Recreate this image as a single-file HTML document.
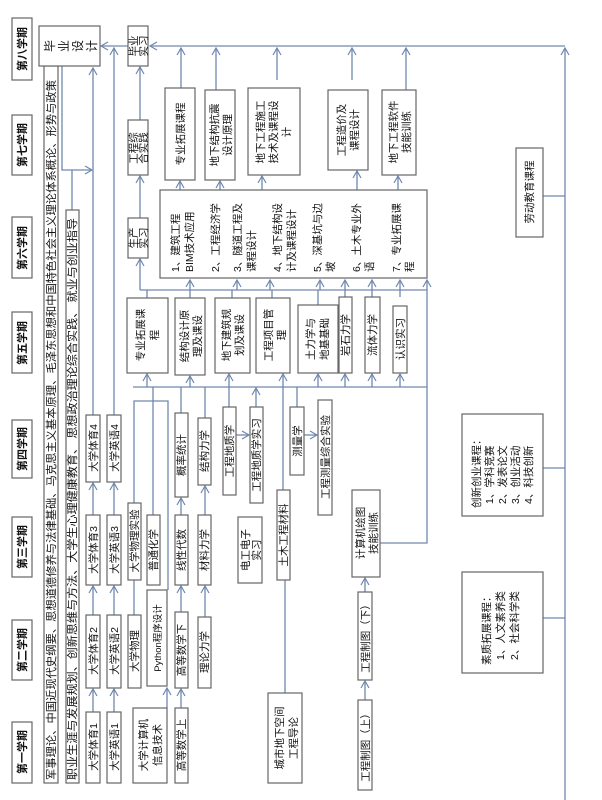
<!DOCTYPE html>
<html><head><meta charset="utf-8"><style>
html,body{margin:0;padding:0;background:#fff}
svg{display:block}
text{font-family:"Liberation Sans","Noto Sans CJK SC",sans-serif;font-size:10.5px;fill:#111}
.b{fill:#fff;stroke:#666;stroke-width:1.2}
.c{fill:none;stroke:#7088ad;stroke-width:1.3}
.h{font-weight:bold;font-size:11px}
</style></head><body>
<svg width="602" height="800" viewBox="0 0 602 800" xmlns="http://www.w3.org/2000/svg">
<defs><marker id="a" markerWidth="10" markerHeight="10" refX="8" refY="5" orient="auto" markerUnits="userSpaceOnUse"><path d="M1,1 L8,5 L1,9" fill="none" stroke="#7088ad" stroke-width="1.2"/></marker></defs>

<g>
<rect class="b" x="12" y="18" width="20" height="62"/><text class="h" transform="translate(26,49) rotate(-90)" text-anchor="middle">第八学期</text>
<rect class="b" x="12" y="115" width="20" height="60"/><text class="h" transform="translate(26,145) rotate(-90)" text-anchor="middle">第七学期</text>
<rect class="b" x="12" y="217" width="20" height="61"/><text class="h" transform="translate(26,248) rotate(-90)" text-anchor="middle">第六学期</text>
<rect class="b" x="12" y="312" width="20" height="61"/><text class="h" transform="translate(26,343) rotate(-90)" text-anchor="middle">第五学期</text>
<rect class="b" x="12" y="420" width="20" height="58"/><text class="h" transform="translate(26,449) rotate(-90)" text-anchor="middle">第四学期</text>
<rect class="b" x="12" y="517" width="20" height="60"/><text class="h" transform="translate(26,547) rotate(-90)" text-anchor="middle">第三学期</text>
<rect class="b" x="12" y="620" width="20" height="60"/><text class="h" transform="translate(26,650) rotate(-90)" text-anchor="middle">第二学期</text>
<rect class="b" x="12" y="722" width="20" height="61"/><text class="h" transform="translate(26,752) rotate(-90)" text-anchor="middle">第一学期</text>
</g>

<g class="c">
<path d="M565,800 V48" marker-end="url(#a)"/>
<path d="M565,46 H150" marker-end="url(#a)"/>
<path d="M128,46 H101" marker-end="url(#a)"/>
<path d="M62,66 V170 H92" marker-end="url(#a)"/>
<path d="M72,210 V170"/>
<path d="M93,415 V68" marker-end="url(#a)"/>
<path d="M114,415 V48" marker-end="url(#a)"/>
<path d="M93,712 V689" marker-end="url(#a)"/><path d="M93,615 V586" marker-end="url(#a)"/><path d="M93,515 V483" marker-end="url(#a)"/>
<path d="M114,712 V689" marker-end="url(#a)"/><path d="M114,615 V586" marker-end="url(#a)"/><path d="M114,515 V483" marker-end="url(#a)"/>
<path d="M167,708 V688" marker-end="url(#a)"/>
<path d="M134,615 V580"/>
<path d="M134,503 V401 H168 V590"/>
<path d="M153,515 V387"/>
<path d="M181,708 V689" marker-end="url(#a)"/><path d="M181,612 V586" marker-end="url(#a)"/><path d="M181,515 V498" marker-end="url(#a)"/><path d="M181,413 V387"/>
<path d="M205,617 V586" marker-end="url(#a)"/><path d="M205,515 V486" marker-end="url(#a)"/><path d="M205,418 V387"/>
<path d="M229,407 V374" marker-end="url(#a)"/>
<path d="M236,435 H249" marker-end="url(#a)"/>
<path d="M256,407 V388" marker-end="url(#a)"/>
<path d="M285,693 V580"/>
<path d="M283,490 V374" marker-end="url(#a)"/>
<path d="M297,407 V387"/>
<path d="M304,435 H317" marker-end="url(#a)"/>
<path d="M365,700 V681" marker-end="url(#a)"/><path d="M365,592 V578" marker-end="url(#a)"/>
<path d="M380,543 H427 V280" marker-end="url(#a)"/>
<path d="M133,387 H427"/>
<path d="M147,387 V374" marker-end="url(#a)"/>
<path d="M190,387 V376" marker-end="url(#a)"/>
<path d="M318,387 V374" marker-end="url(#a)"/>
<path d="M345,387 V374" marker-end="url(#a)"/>
<path d="M372,387 V374" marker-end="url(#a)"/>
<path d="M400,387 V374" marker-end="url(#a)"/>
<path d="M140,290 H427"/>
<path d="M147,298 V290"/><path d="M190,298 V290"/><path d="M232,298 V290"/><path d="M272,298 V290"/><path d="M318,305 V290"/><path d="M345,297 V290"/><path d="M372,297 V290"/><path d="M400,297 V290"/>
<path d="M140,290 V259" marker-end="url(#a)"/>
<path d="M190,290 V280" marker-end="url(#a)"/><path d="M237,290 V280" marker-end="url(#a)"/><path d="M270,290 V280" marker-end="url(#a)"/><path d="M320,290 V280" marker-end="url(#a)"/><path d="M345,290 V280" marker-end="url(#a)"/><path d="M372,290 V280" marker-end="url(#a)"/><path d="M400,290 V280" marker-end="url(#a)"/>
<path d="M140,218 V176" marker-end="url(#a)"/>
<path d="M140,120 V67" marker-end="url(#a)"/>
<path d="M180,190 V181" marker-end="url(#a)"/><path d="M220,190 V181" marker-end="url(#a)"/><path d="M262,190 V176" marker-end="url(#a)"/><path d="M357,190 V171" marker-end="url(#a)"/><path d="M398,190 V176" marker-end="url(#a)"/>
<path d="M181,88 V48" marker-end="url(#a)"/><path d="M216,90 V48" marker-end="url(#a)"/><path d="M277,80 V48" marker-end="url(#a)"/><path d="M352,80 V48" marker-end="url(#a)"/><path d="M406,90 V48" marker-end="url(#a)"/>
<path d="M543,196 H565"/><path d="M543,468 H565"/><path d="M543,618 H565"/>
</g>

<rect class="b" x="44" y="66" width="14" height="717"/>
<text transform="translate(55,780) rotate(-90)" textLength="700" lengthAdjust="spacingAndGlyphs" style="font-size:11px">军事理论、中国近现代史纲要、思想道德修养与法律基础、马克思主义基本原理、毛泽东思想和中国特色社会主义理论体系概论、形势与政策</text>
<rect class="b" x="66" y="210" width="13" height="573"/>
<text transform="translate(76,780) rotate(-90)" textLength="562" lengthAdjust="spacingAndGlyphs" style="font-size:11px">职业生涯与发展规划、创新思维与方法、大学生心理健康教育、 思想政治理论综合实践、 就业与创业指导</text>

<rect class="b" x="39" y="26" width="61" height="40"/>
<text transform="translate(50,46) rotate(-90)" text-anchor="middle" dominant-baseline="central" style="font-size:12px">毕</text>
<text transform="translate(64,46) rotate(-90)" text-anchor="middle" dominant-baseline="central" style="font-size:12px">业</text>
<text transform="translate(78,46) rotate(-90)" text-anchor="middle" dominant-baseline="central" style="font-size:12px">设</text>
<text transform="translate(92,46) rotate(-90)" text-anchor="middle" dominant-baseline="central" style="font-size:12px">计</text>
<rect class="b" x="128" y="26" width="20" height="40"/>
<text transform="translate(137,46) rotate(-90)" text-anchor="middle">毕业</text><text transform="translate(147,46) rotate(-90)" text-anchor="middle">实习</text>

<g>
<rect class="b" x="86" y="712" width="14" height="71"/><text transform="translate(97,747) rotate(-90)" text-anchor="middle">大学体育1</text>
<rect class="b" x="86" y="615" width="14" height="73"/><text transform="translate(97,651) rotate(-90)" text-anchor="middle">大学体育2</text>
<rect class="b" x="86" y="515" width="14" height="70"/><text transform="translate(97,550) rotate(-90)" text-anchor="middle">大学体育3</text>
<rect class="b" x="86" y="415" width="14" height="67"/><text transform="translate(97,448) rotate(-90)" text-anchor="middle">大学体育4</text>
<rect class="b" x="107" y="712" width="14" height="71"/><text transform="translate(118,747) rotate(-90)" text-anchor="middle">大学英语1</text>
<rect class="b" x="107" y="615" width="14" height="73"/><text transform="translate(118,651) rotate(-90)" text-anchor="middle">大学英语2</text>
<rect class="b" x="107" y="515" width="14" height="70"/><text transform="translate(118,550) rotate(-90)" text-anchor="middle">大学英语3</text>
<rect class="b" x="107" y="415" width="14" height="67"/><text transform="translate(118,448) rotate(-90)" text-anchor="middle">大学英语4</text>
<rect class="b" x="133" y="708" width="34" height="75"/><text transform="translate(147,745) rotate(-90)" text-anchor="middle">大学计算机</text><text transform="translate(161,745) rotate(-90)" text-anchor="middle">信息技术</text>
<rect class="b" x="128" y="615" width="13" height="73"/><text transform="translate(138,651) rotate(-90)" text-anchor="middle">大学物理</text>
<rect class="b" x="128" y="503" width="13" height="77"/><text transform="translate(138,541) rotate(-90)" text-anchor="middle">大学物理实验</text>
<rect class="b" x="147" y="590" width="20" height="96"/><text transform="translate(161,638) rotate(-90)" text-anchor="middle" style="font-size:9.5px">Python程序设计</text>
<rect class="b" x="147" y="515" width="13" height="70"/><text transform="translate(157,550) rotate(-90)" text-anchor="middle">普通化学</text>
<rect class="b" x="175" y="708" width="13" height="75"/><text transform="translate(185,745) rotate(-90)" text-anchor="middle">高等数学上</text>
<rect class="b" x="175" y="612" width="13" height="76"/><text transform="translate(185,650) rotate(-90)" text-anchor="middle">高等数学下</text>
<rect class="b" x="175" y="515" width="13" height="70"/><text transform="translate(185,550) rotate(-90)" text-anchor="middle">线性代数</text>
<rect class="b" x="175" y="413" width="13" height="84"/><text transform="translate(185,455) rotate(-90)" text-anchor="middle">概率统计</text>
<rect class="b" x="198" y="617" width="13" height="71"/><text transform="translate(208,652) rotate(-90)" text-anchor="middle">理论力学</text>
<rect class="b" x="198" y="515" width="13" height="70"/><text transform="translate(208,550) rotate(-90)" text-anchor="middle">材料力学</text>
<rect class="b" x="198" y="418" width="13" height="67"/><text transform="translate(208,451) rotate(-90)" text-anchor="middle">结构力学</text>
<rect class="b" x="238" y="517" width="24" height="66"/><text transform="translate(249,550) rotate(-90)" text-anchor="middle">电工电子</text><text transform="translate(260,550) rotate(-90)" text-anchor="middle">实习</text>
<rect class="b" x="223" y="407" width="13" height="88"/><text transform="translate(233,451) rotate(-90)" text-anchor="middle">工程地质学</text>
<rect class="b" x="250" y="407" width="13" height="96"/><text transform="translate(260,455) rotate(-90)" text-anchor="middle">工程地质学实习</text>
<rect class="b" x="277" y="490" width="13" height="90"/><text transform="translate(287,535) rotate(-90)" text-anchor="middle">土木工程材料</text>
<rect class="b" x="268" y="693" width="34" height="90"/><text transform="translate(283,738) rotate(-90)" text-anchor="middle">城市地下空间</text><text transform="translate(297,738) rotate(-90)" text-anchor="middle">工程导论</text>
<rect class="b" x="290" y="407" width="14" height="68"/><text transform="translate(301,441) rotate(-90)" text-anchor="middle">测量学</text>
<rect class="b" x="318" y="400" width="14" height="115"/><text transform="translate(329,457) rotate(-90)" text-anchor="middle">工程测量综合实验</text>
<rect class="b" x="352" y="490" width="28" height="87"/><text transform="translate(364,533) rotate(-90)" text-anchor="middle">计算机绘图</text><text transform="translate(377,533) rotate(-90)" text-anchor="middle">技能训练</text>
<rect class="b" x="358" y="592" width="14" height="88"/><text transform="translate(369,636) rotate(-90)" text-anchor="middle">工程制图（下）</text>
<rect class="b" x="358" y="700" width="14" height="90"/><text transform="translate(369,745) rotate(-90)" text-anchor="middle">工程制图（上）</text>
</g>

<g>
<rect class="b" x="127" y="298" width="41" height="75"/><text transform="translate(144,335) rotate(-90)" text-anchor="middle">专业拓展课</text><text transform="translate(158,335) rotate(-90)" text-anchor="middle">程</text>
<rect class="b" x="175" y="298" width="30" height="77"/><text transform="translate(188,336) rotate(-90)" text-anchor="middle">结构设计原</text><text transform="translate(201,336) rotate(-90)" text-anchor="middle">理及课设</text>
<rect class="b" x="215" y="298" width="35" height="75"/><text transform="translate(230,335) rotate(-90)" text-anchor="middle">地下建筑规</text><text transform="translate(243,335) rotate(-90)" text-anchor="middle">划及课设</text>
<rect class="b" x="256" y="298" width="34" height="75"/><text transform="translate(272,335) rotate(-90)" text-anchor="middle">工程项目管</text><text transform="translate(285,335) rotate(-90)" text-anchor="middle">理</text>
<rect class="b" x="298" y="305" width="40" height="68"/><text transform="translate(314,339) rotate(-90)" text-anchor="middle">土力学与</text><text transform="translate(328,339) rotate(-90)" text-anchor="middle">地基基础</text>
<rect class="b" x="339" y="297" width="13" height="76"/><text transform="translate(349,335) rotate(-90)" text-anchor="middle">岩石力学</text>
<rect class="b" x="365" y="297" width="15" height="76"/><text transform="translate(376,335) rotate(-90)" text-anchor="middle">流体力学</text>
<rect class="b" x="393" y="306" width="14" height="67"/><text transform="translate(404,339) rotate(-90)" text-anchor="middle">认识实习</text>
</g>

<rect class="b" x="128" y="218" width="20" height="40"/><text transform="translate(137,238) rotate(-90)" text-anchor="middle">生产</text><text transform="translate(147,238) rotate(-90)" text-anchor="middle">实习</text>
<rect class="b" x="160" y="190" width="267" height="88"/>
<g>
<text transform="translate(179,272) rotate(-90)">1、建筑工程</text><text transform="translate(193,272) rotate(-90)">BIM技术应用</text>
<text transform="translate(219,272) rotate(-90)">2、工程经济学</text>
<text transform="translate(241,272) rotate(-90)">3、隧道工程及</text><text transform="translate(255,272) rotate(-90)">课程设计</text>
<text transform="translate(281,272) rotate(-90)">4、地下结构设</text><text transform="translate(295,272) rotate(-90)">计及课程设计</text>
<text transform="translate(321,272) rotate(-90)">5、深基坑与边</text><text transform="translate(334,272) rotate(-90)">坡</text>
<text transform="translate(360,272) rotate(-90)">6、土木专业外</text><text transform="translate(373,272) rotate(-90)">语</text>
<text transform="translate(400,272) rotate(-90)">7、专业拓展课</text><text transform="translate(413,272) rotate(-90)">程</text>
</g>

<g>
<rect class="b" x="128" y="120" width="20" height="55"/><text transform="translate(137,148) rotate(-90)" text-anchor="middle">工程综</text><text transform="translate(147,148) rotate(-90)" text-anchor="middle">合实践</text>
<rect class="b" x="165" y="88" width="30" height="92"/><text transform="translate(184,134) rotate(-90)" text-anchor="middle">专业拓展课程</text>
<rect class="b" x="205" y="90" width="30" height="90"/><text transform="translate(218,135) rotate(-90)" text-anchor="middle">地下结构抗震</text><text transform="translate(231,135) rotate(-90)" text-anchor="middle">设计原理</text>
<rect class="b" x="248" y="88" width="52" height="87"/><text transform="translate(264,132) rotate(-90)" text-anchor="middle">地下工程施工</text><text transform="translate(277,132) rotate(-90)" text-anchor="middle">技术及课程设</text><text transform="translate(290,132) rotate(-90)" text-anchor="middle">计</text>
<rect class="b" x="328" y="90" width="40" height="80"/><text transform="translate(345,130) rotate(-90)" text-anchor="middle">工程造价及</text><text transform="translate(358,130) rotate(-90)" text-anchor="middle">课程设计</text>
<rect class="b" x="382" y="90" width="34" height="85"/><text transform="translate(397,132) rotate(-90)" text-anchor="middle">地下工程软件</text><text transform="translate(410,132) rotate(-90)" text-anchor="middle">技能训练</text>
</g>

<rect class="b" x="516" y="148" width="27" height="89"/><text transform="translate(533,192) rotate(-90)" text-anchor="middle">劳动教育课程</text>
<rect class="b" x="462" y="414" width="81" height="102"/>
<text transform="translate(480,508) rotate(-90)">创新创业课程：</text>
<text transform="translate(493,504) rotate(-90)">1、学科竞赛</text>
<text transform="translate(506,504) rotate(-90)">2、发表论文</text>
<text transform="translate(519,504) rotate(-90)">3、创业活动</text>
<text transform="translate(532,504) rotate(-90)">4、科技创新</text>
<rect class="b" x="462" y="572" width="81" height="101"/>
<text transform="translate(490,665) rotate(-90)">素质拓展课程：</text>
<text transform="translate(504,660) rotate(-90)">1、人文素养类</text>
<text transform="translate(518,660) rotate(-90)">2、社会科学类</text>
</svg>
</body></html>
